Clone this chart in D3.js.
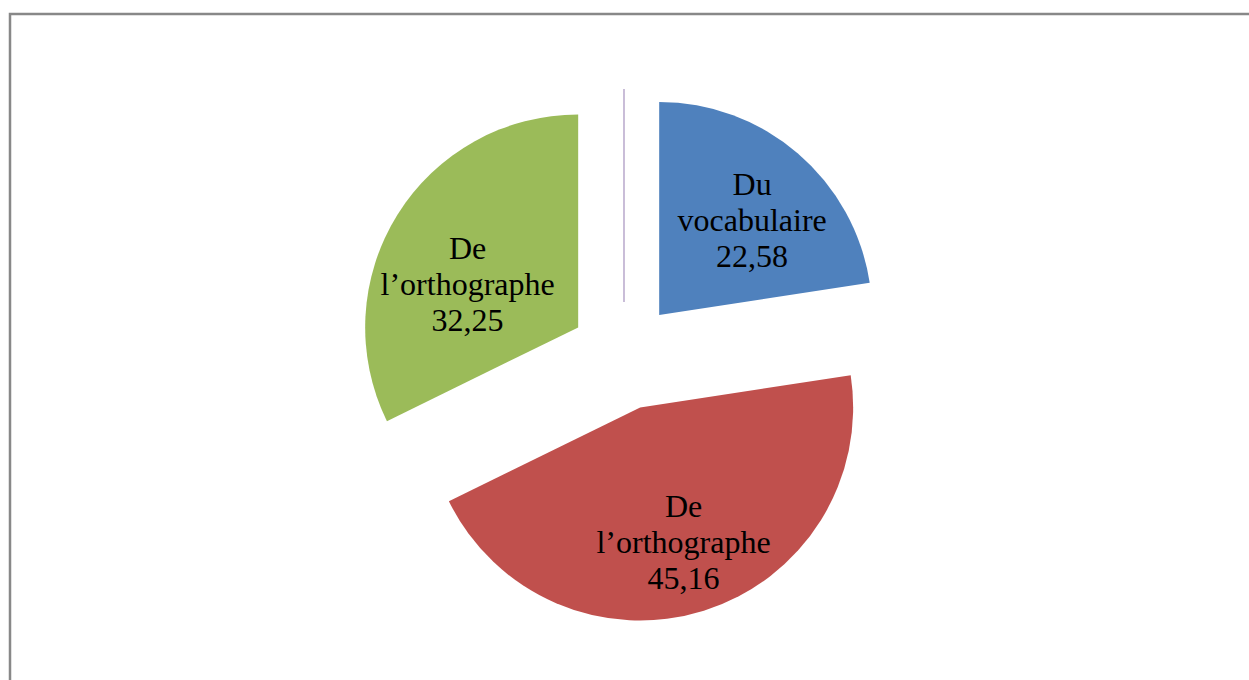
<!DOCTYPE html>
<html>
<head>
<meta charset="utf-8">
<script src="https://cdn.jsdelivr.net/npm/d3@7"></script>
<style>
  html, body { margin: 0; padding: 0; background: #fff; }
  #canvas { width: 1249px; height: 680px; }
</style>
</head>
<body>
<div id="canvas"></div>
<script>
// data
var categories = ["Du vocabulaire", "De l\u2019orthographe", "De l\u2019orthographe", ""];
var values = [22.58, 45.16, 32.25, 0];
var colors = ["#4F81BD", "#C0504D", "#9BBB59", "#8064A2"];

// layout: every slice pulled out by the same distance, small label nudges
var explodeDist = 54;
var labelNudge = [[5, 7], [3, 6], [4, 28], [0, 0]];

var width = 1249, height = 680;
var originX = 624, originY = 356;
var radius = 213;
var labelRadius = 135;

var svg = d3.select("#canvas").append("svg")
    .attr("width", width)
    .attr("height", height);

svg.append("rect")
    .attr("width", width).attr("height", height)
    .attr("fill", "#fff");

// chart frame
svg.append("rect")
    .attr("x", 10).attr("y", 14)
    .attr("width", width + 20).attr("height", height + 20)
    .attr("fill", "none")
    .attr("stroke", "#888")
    .attr("stroke-width", 2.5);

var pieData = values.map(function (v, i) {
    return { name: categories[i], value: v, id: i };
});

var pie = d3.pie().sort(null).value(function (d) { return d.value; });
var arcs = pie(pieData);

var arc = d3.arc().innerRadius(0).outerRadius(radius);
var labelArc = d3.arc().innerRadius(labelRadius).outerRadius(labelRadius);

var g = svg.append("g")
    .attr("transform", "translate(" + originX + "," + originY + ")");

var slices = g.selectAll("g.slice").data(arcs).enter().append("g")
    .attr("class", "slice")
    .attr("transform", function (d) {
        var mid = (d.startAngle + d.endAngle) / 2;
        var dx = explodeDist * Math.sin(mid);
        var dy = -explodeDist * Math.cos(mid);
        return "translate(" + dx + "," + dy + ")";
    });

slices.append("path")
    .attr("d", arc)
    .style("fill", function (d) { return colors[d.data.id]; })
    .style("stroke", function (d) { return d.data.value === 0 ? colors[d.data.id] : "none"; })
    .style("stroke-width", 1.2)
    .style("stroke-opacity", 0.7);

var labels = slices.filter(function (d) { return d.data.value > 0; })
    .append("text")
    .attr("transform", function (d) {
        var c = labelArc.centroid(d);
        var n = labelNudge[d.data.id];
        return "translate(" + (c[0] + n[0]) + "," + (c[1] + n[1]) + ")";
    })
    .attr("text-anchor", "middle")
    .style("font-family", "'Liberation Serif', 'Times New Roman', serif")
    .style("font-size", "32px")
    .style("fill", "#000");

labels.each(function (d) {
    var name = d.data.name;
    var k = name.indexOf(" ");
    var lines = [name.slice(0, k), name.slice(k + 1), d3.format(".2f")(d.data.value).replace(".", ",")];
    var t = d3.select(this);
    lines.forEach(function (line, i) {
        t.append("tspan")
            .attr("x", 0)
            .attr("y", (i - 1) * 36 + 11)
            .text(line);
    });
});
</script>
</body>
</html>
